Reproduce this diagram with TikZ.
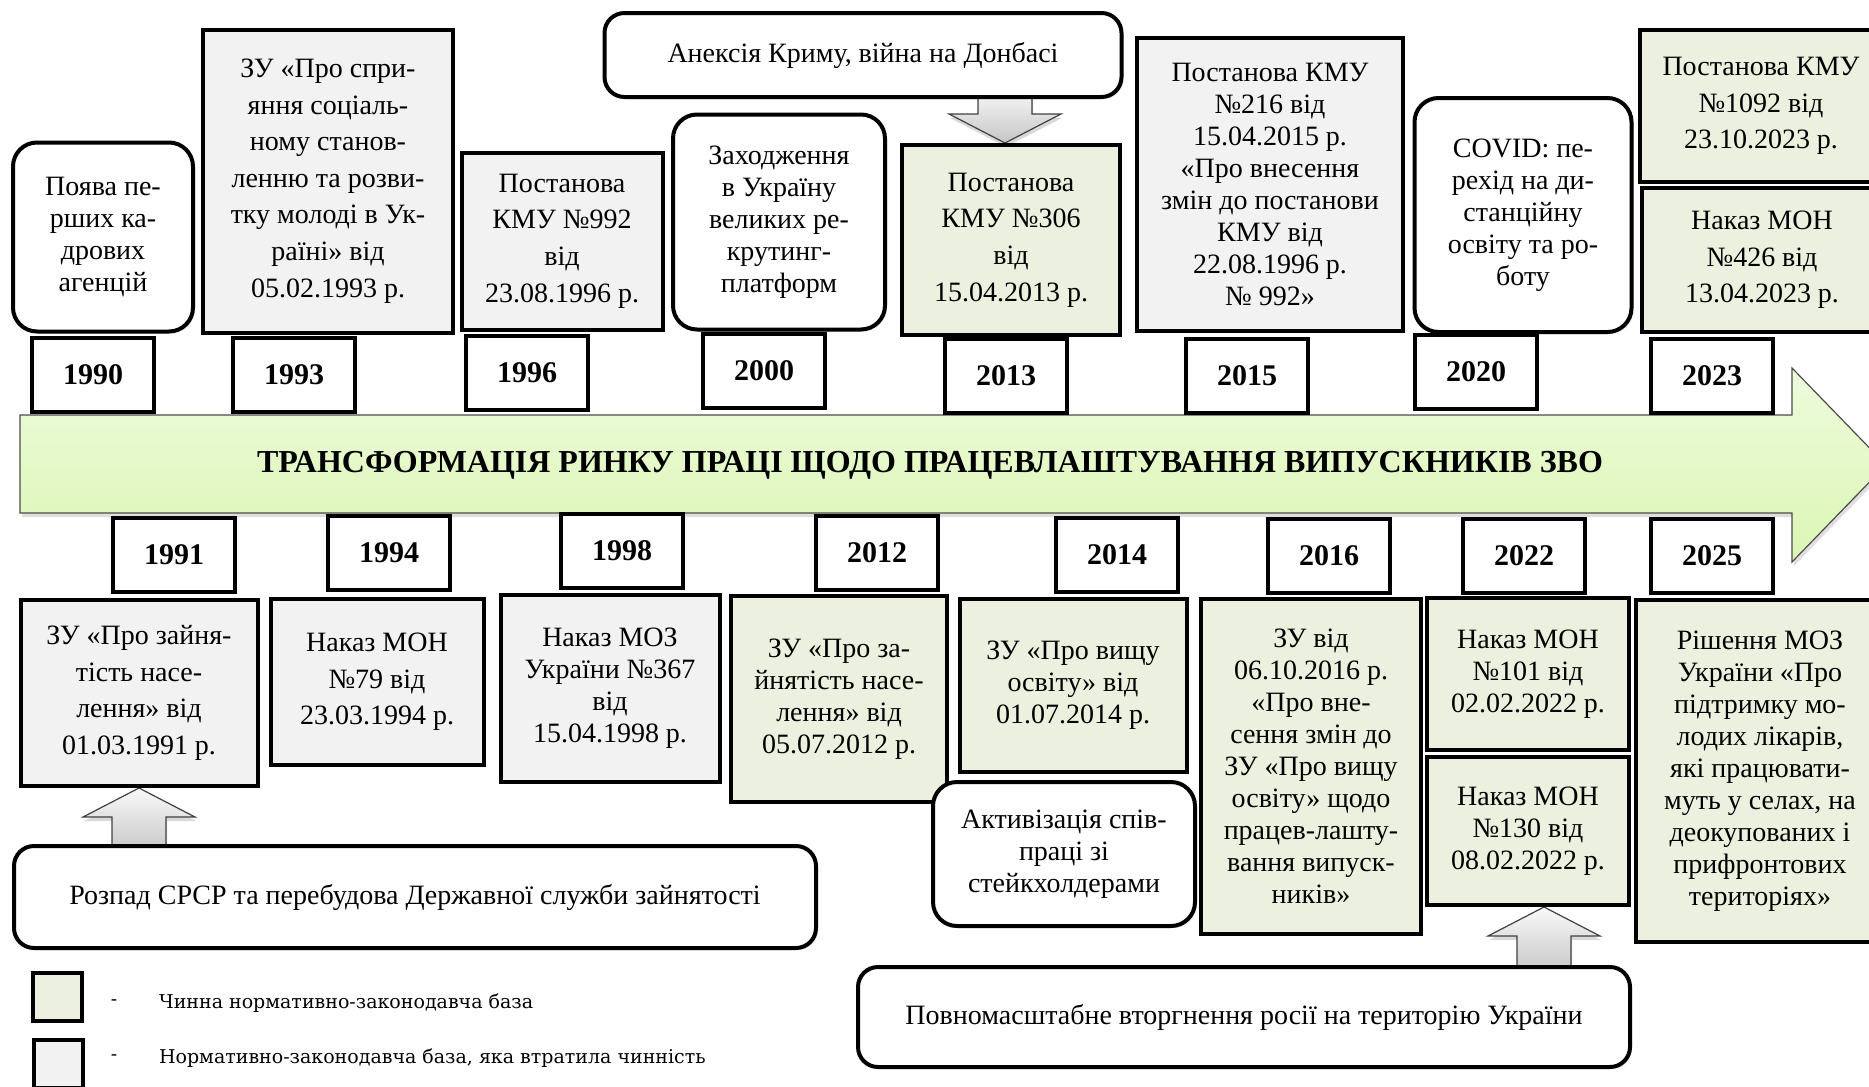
\documentclass[tikz,border=0pt]{standalone}
\usepackage{fontspec}
\setmainfont{Liberation Serif}
\newfontfamily\legendfont{DejaVu Serif}
\usetikzlibrary{calc}
\usetikzlibrary{shadows}
\usetikzlibrary{backgrounds}

\definecolor{lawgreen}{HTML}{EBF1DE}
\definecolor{oldgray}{HTML}{F2F2F2}
\definecolor{arrowtop}{HTML}{EDFBDC}
\definecolor{arrowbot}{HTML}{DCF6B4}

% block arrow: #1 tip, #2 anchor of the event box, #3 = 1 up / -1 down
\newcommand{\blockarrow}[3]{%
  \draw[blockarr] (#1) -- ($(#1)+(-56,#3*29)$) -- ($(#1)+(-27,#3*29)$)
    -- ($(#1|-#2)+(-27,#3*10)$) -- ($(#1|-#2)+(27,#3*10)$)
    -- ($(#1)+(27,#3*29)$) -- ($(#1)+(56,#3*29)$) -- cycle;}

\begin{document}
\begin{tikzpicture}[x=0.5pt, y=-0.5pt,
    dims/.style 2 args={minimum width=#1*0.5pt, minimum height=#2*0.5pt},
    textbox/.style={draw, line width=2pt, align=center, inner sep=2pt,
      font=\fontsize{14}{16}\selectfont,
      drop shadow={shadow xshift=1pt, shadow yshift=-1pt, opacity=0.2}},
    loose/.style={font=\fontsize{14}{18.3}\selectfont},
    oldlaw/.style={textbox, fill=oldgray},
    newlaw/.style={textbox, fill=lawgreen},
    event/.style={textbox, fill=white, rounded corners=12pt},
    year/.style={draw, line width=2pt, fill=white, minimum width=61pt, minimum height=37pt,
      font=\fontsize{15}{18}\selectfont\bfseries,
      drop shadow={shadow xshift=1pt, shadow yshift=-1pt, opacity=0.2}},
    blockarr/.style={draw=black!75, line width=0.6pt, top color=gray!5, bottom color=gray!45,
      drop shadow={shadow xshift=0.5pt, shadow yshift=-2pt, opacity=0.3}},
    mainarrow/.style={draw=black!70, line width=0.6pt, top color=arrowtop, bottom color=arrowbot,
      drop shadow={shadow xshift=1pt, shadow yshift=-2pt, opacity=0.25}},
    legendtxt/.style={font=\legendfont\fontsize{9.5}{11}\selectfont}
  ]
  \useasboundingbox (0,0) rectangle (1869,1087);
  \clip (0,0) rectangle (1869,1087);

  % Timeline arrow
  \draw[mainarrow] (20,415) -- (1792,415) -- (1792,368) -- (1886,465)
    -- (1792,562) -- (1792,513) -- (20,513) -- cycle;
  \node[font=\fontsize{16}{18}\selectfont\bfseries] (title) at (930,465)
    {ТРАНСФОРМАЦІЯ РИНКУ ПРАЦІ ЩОДО ПРАЦЕВЛАШТУВАННЯ ВИПУСКНИКІВ ЗВО};

  % Above the timeline
  \node[event, dims={180}{189}] (ev90) at (103,237) {Поява пе-\\рших ка-\\дрових\\агенцій};
  \node[oldlaw, loose, dims={250}{303}] (law93) at (328,181)
    {ЗУ «Про спри-\\яння соціаль-\\ному станов-\\ленню та розви-\\тку молоді в Ук-\\раїні» від\\05.02.1993 р.};
  \node[oldlaw, loose, dims={201}{177}] (law96) at (562,241) {Постанова\\КМУ №992\\від\\23.08.1996 р.};
  \node[event, rounded corners=10pt, dims={517}{84}] (crimea) at (863,55) {Анексія Криму, війна на Донбасі};
  \node[event, dims={212}{215}] (ev00) at (779,222) {Заходження\\в Україну\\великих ре-\\крутинг-\\платформ};
  \node[newlaw, loose, dims={218}{190}] (law13) at (1011,240) {Постанова\\КМУ №306\\від\\15.04.2013 р.};
  \node[oldlaw, dims={266}{293}] (law15) at (1270,184)
    {Постанова КМУ\\№216 від\\15.04.2015 р.\\«Про внесення\\змін до постанови\\КМУ від\\22.08.1996 р.\\№ 992»};
  \node[event, dims={217}{234}] (ev20) at (1523,215) {COVID: пе-\\рехід на ди-\\станційну\\освіту та ро-\\боту};
  \node[newlaw, loose, dims={242}{152}] (law23a) at (1761,106) {Постанова КМУ\\№1092 від\\23.10.2023 р.};
  \node[newlaw, loose, dims={240}{144}] (law23b) at (1762,260) {Наказ МОН\\№426 від\\13.04.2023 р.};

  \node[year] (y90) at (93,375) {1990};
  \node[year] (y93) at (294,375) {1993};
  \node[year] (y96) at (527,373) {1996};
  \node[year] (y00) at (764,371) {2000};
  \node[year] (y13) at (1006,376) {2013};
  \node[year] (y15) at (1247,376) {2015};
  \node[year] (y20) at (1476,372) {2020};
  \node[year] (y23) at (1712,376) {2023};

  % Below the timeline
  \node[year] (y91) at (174,555) {1991};
  \node[year] (y94) at (389,553) {1994};
  \node[year] (y98) at (622,551) {1998};
  \node[year] (y12) at (877,553) {2012};
  \node[year] (y14) at (1117,555) {2014};
  \node[year] (y16) at (1329,556) {2016};
  \node[year] (y22) at (1524,556) {2022};
  \node[year] (y25) at (1712,556) {2025};

  \node[oldlaw, loose, dims={237}{186}] (law91) at (139,693) {ЗУ «Про зайня-\\тість насе-\\лення» від\\01.03.1991 р.};
  \node[oldlaw, loose, dims={213}{166}] (law94) at (377,682) {Наказ МОН\\№79 від\\23.03.1994 р.};
  \node[oldlaw, dims={219}{187}] (law98) at (610,688) {Наказ МОЗ\\України №367\\від\\15.04.1998 р.};
  \node[newlaw, dims={216}{206}] (law12) at (839,699) {ЗУ «Про за-\\йнятість насе-\\лення» від\\05.07.2012 р.};
  \node[newlaw, dims={227}{173}] (law14) at (1073,685) {ЗУ «Про вищу\\освіту» від\\01.07.2014 р.};
  \node[event, dims={262}{144}] (stake) at (1064,854) {Активізація спів-\\праці зі\\стейкхолдерами};
  \node[newlaw, dims={220}{335}] (law16) at (1311,766)
    {ЗУ від\\06.10.2016 р.\\«Про вне-\\сення змін до\\ЗУ «Про вищу\\освіту» щодо\\працев-лашту-\\вання випуск-\\ників»};
  \node[newlaw, dims={202}{152}] (law22a) at (1528,674) {Наказ МОН\\№101 від\\02.02.2022 р.};
  \node[newlaw, dims={202}{148}] (law22b) at (1528,831) {Наказ МОН\\№130 від\\08.02.2022 р.};
  \node[newlaw, dims={248}{342}] (law25) at (1760,771)
    {Рішення МОЗ\\України «Про\\підтримку мо-\\лодих лікарів,\\які працювати-\\муть у селах, на\\деокупованих і\\прифронтових\\територіях»};

  \node[event, rounded corners=10pt, dims={802}{102}] (collapse) at (415,897)
    {Розпад СРСР та перебудова Державної служби зайнятості};
  \node[event, rounded corners=10pt, dims={772}{100}] (invasion) at (1244,1017)
    {Повномасштабне вторгнення росії на територію України};

  % Causes -> laws
  \coordinate (tip13) at ($(law13.north)+(-6,0)$);
  \coordinate (tip91) at (law91.south);
  \coordinate (tip22) at ($(law22b.south)+(16,0)$);
  \begin{pgfonlayer}{background}
    \blockarrow{tip13}{crimea.south}{-1}
    \blockarrow{tip91}{collapse.north}{1}
    \blockarrow{tip22}{invasion.north}{1}
  \end{pgfonlayer}

  % Legend
  \node[newlaw, inner sep=0pt, dims={49}{48}] (legnew) at (57,997) {};
  \node[oldlaw, inner sep=0pt, dims={49}{48}] (legold) at (58,1064) {};
  \node[legendtxt] (dashnew) at (114,1003) {-};
  \node[legendtxt] (dashold) at (114,1058) {-};
  \node[legendtxt, anchor=west] (txtnew) at (152,1003) {Чинна нормативно-законодавча база};
  \node[legendtxt, anchor=west] (txtold) at (152,1058) {Нормативно-законодавча база, яка втратила чинність};
\end{tikzpicture}
\end{document}
